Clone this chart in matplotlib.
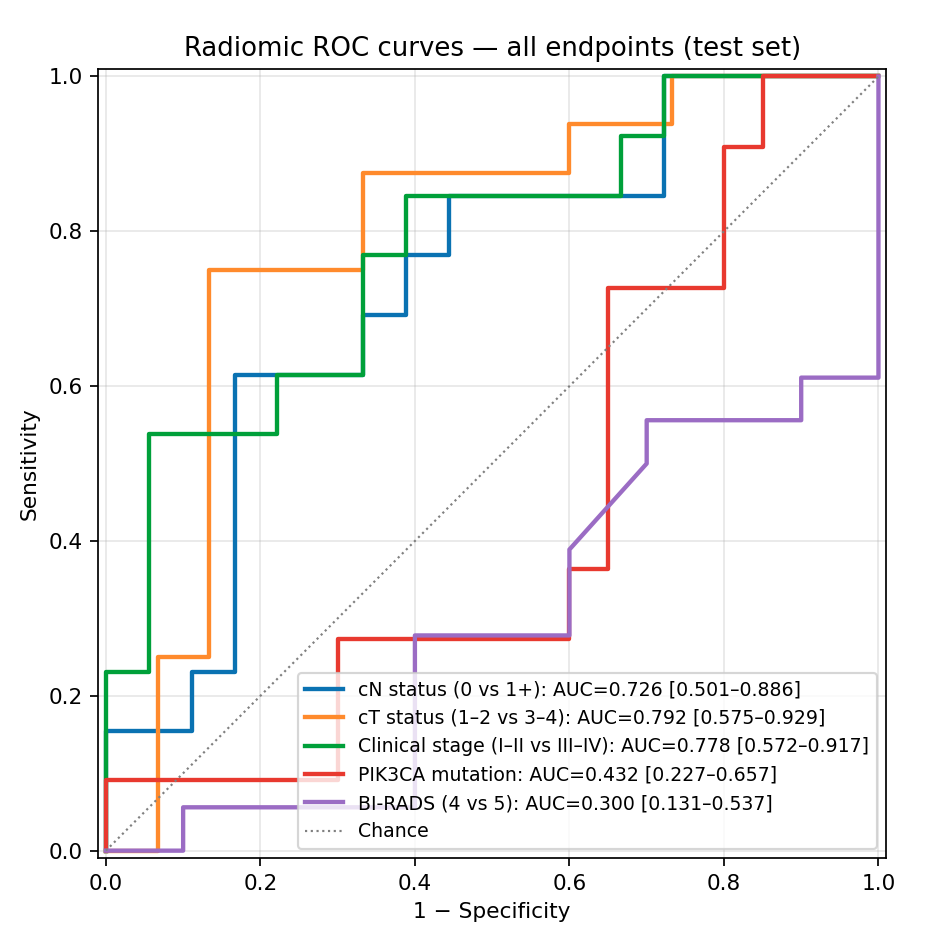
import matplotlib
matplotlib.use("Agg")
import matplotlib.pyplot as plt

# ROC points (fpr = 1 - specificity, tpr = sensitivity)
cn_fpr = [0, 0, 0.111, 0.111, 0.167, 0.167, 0.333, 0.333, 0.389, 0.389, 0.444, 0.444, 0.722, 0.722, 1.0]
cn_tpr = [0, 0.154, 0.154, 0.231, 0.231, 0.615, 0.615, 0.692, 0.692, 0.769, 0.769, 0.846, 0.846, 1.0, 1.0]

ct_fpr = [0, 0.067, 0.067, 0.133, 0.133, 0.333, 0.333, 0.6, 0.6, 0.733, 0.733, 1.0]
ct_tpr = [0, 0, 0.25, 0.25, 0.75, 0.75, 0.875, 0.875, 0.938, 0.938, 1.0, 1.0]

stage_fpr = [0, 0, 0.056, 0.056, 0.222, 0.222, 0.333, 0.333, 0.389, 0.389, 0.667, 0.667, 0.722, 0.722, 1.0]
stage_tpr = [0, 0.231, 0.231, 0.538, 0.538, 0.615, 0.615, 0.769, 0.769, 0.846, 0.846, 0.923, 0.923, 1.0, 1.0]

pik_fpr = [0, 0, 0.3, 0.3, 0.6, 0.6, 0.65, 0.65, 0.8, 0.8, 0.85, 0.85, 1.0]
pik_tpr = [0, 0.091, 0.091, 0.273, 0.273, 0.364, 0.364, 0.727, 0.727, 0.909, 0.909, 1.0, 1.0]

birads_fpr = [0, 0.1, 0.1, 0.4, 0.4, 0.6, 0.6, 0.7, 0.7, 0.9, 0.9, 1.0, 1.0]
birads_tpr = [0, 0, 0.056, 0.056, 0.278, 0.278, 0.389, 0.5, 0.556, 0.556, 0.611, 0.611, 1.0]

labels = [
    "cN status (0 vs 1+): AUC=0.726 [0.501\u20130.886]",
    "cT status (1\u20132 vs 3\u20134): AUC=0.792 [0.575\u20130.929]",
    "Clinical stage (I\u2013II vs III\u2013IV): AUC=0.778 [0.572\u20130.917]",
    "PIK3CA mutation: AUC=0.432 [0.227\u20130.657]",
    "BI-RADS (4 vs 5): AUC=0.300 [0.131\u20130.537]",
]
colors = ["#0a72b2", "#ff8a2c", "#00a03a", "#e8392f", "#9b6cc4"]

curves = [
    (cn_fpr, cn_tpr),
    (ct_fpr, ct_tpr),
    (stage_fpr, stage_tpr),
    (pik_fpr, pik_tpr),
    (birads_fpr, birads_tpr),
]

DPI = 156
fig = plt.figure(figsize=(926 / DPI, 929 / DPI), dpi=DPI)
ax = fig.add_axes([0.106, 0.076, 0.851, 0.850])

for (fpr, tpr), lab, col in zip(curves, labels, colors):
    ax.plot(fpr, tpr, color=col, lw=2, label=lab)

ax.plot([0, 1], [0, 1], ls=":", color="grey", lw=1, label="Chance")

ax.set_xlim(-0.01, 1.01)
ax.set_ylim(-0.01, 1.01)
ax.set_xlabel("1 \u2212 Specificity")
ax.set_ylabel("Sensitivity")
ax.set_title("Radiomic ROC curves \u2014 all endpoints (test set)")
ax.grid(alpha=0.3)
ax.legend(loc="lower right", fontsize=8.7)

fig.savefig("out.png", dpi=DPI)
